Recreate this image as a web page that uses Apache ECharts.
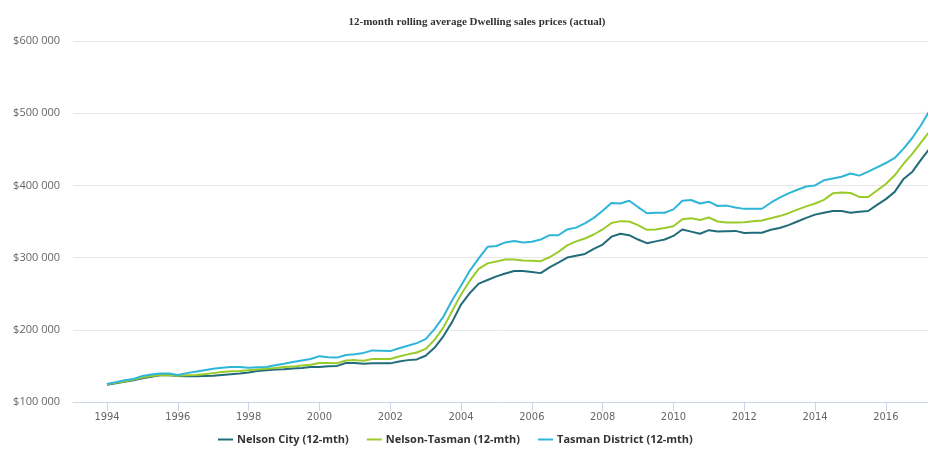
<!DOCTYPE html>
<html>
<head>
<meta charset="utf-8">
<title>12-month rolling average Dwelling sales prices (actual)</title>
<script src="https://cdn.jsdelivr.net/npm/echarts@6/dist/echarts.min.js"></script>
<style>
  html, body { margin: 0; padding: 0; background: #fff; }
  #chart { width: 928px; height: 454px; }
</style>
</head>
<body>
<div id="chart"></div>
<script>
// quarterly series, first point is 1994 Q1
var startYear = 1994
var yearTicks = [1994, 1996, 1998, 2000, 2002, 2004, 2006, 2008, 2010, 2012, 2014, 2016]
var seriesNames = ['Nelson City (12-mth)', 'Nelson-Tasman (12-mth)', 'Tasman District (12-mth)']

// values in $ thousands
var nelsonCity = [
  124, 126, 128, 130, 133, 135, 137, 137, 136, 135.5, 135.5, 136,
  136.5, 137.5, 138.5, 139.5, 141, 143, 144, 145, 145.5, 146.5, 147, 148.5,
  148.5, 149.5, 150, 154, 154, 153, 153.5, 153.5, 153.5, 156, 158, 159,
  164, 175, 191, 211, 235, 251, 264, 269, 274, 278, 281.5, 281.5,
  280, 278.5, 286.5, 293, 300, 302.5, 305, 312, 318, 329, 333, 331,
  325, 320, 322.5, 325, 330, 339, 336, 333, 338, 336, 336.5, 337,
  334, 334.5, 334.5, 338.5, 341, 345, 350, 355, 359.5, 362, 364.5, 364.5,
  362, 363.5, 364.5, 373, 381, 391, 409, 419, 436, 452
]
var nelsonTasman = [
  124.5, 126.5, 128.5, 131, 134, 136, 137, 137, 136.5, 137, 137.5, 138.5,
  140, 141.5, 142.5, 143, 144, 145, 146, 147, 148.5, 149, 150.5, 151.5,
  154, 154, 153.8, 157.5, 158, 157, 159.5, 159.5, 159.5, 163, 166, 168.5,
  173.5, 186, 203, 226, 249, 268, 284.5, 292, 294.5, 297.5, 297.5, 296,
  295.5, 295, 300.5, 308, 317, 322.5, 326.5, 332, 339, 348, 350.5, 350,
  345, 338.5, 339, 341, 343.5, 353, 354.5, 352, 355.5, 350, 348.5, 348.5,
  349, 350.5, 351.5, 354.5, 357.5, 361.5, 366.5, 371, 375, 380, 389, 390,
  389.5, 384, 384, 393, 402, 414, 430, 444, 460, 476
]
var tasmanDistrict = [
  125, 127.5, 130, 132, 136, 138, 139.5, 139.5, 137.5, 140, 142, 144,
  146, 147.5, 148.5, 148.5, 147.5, 148, 148.5, 151, 153, 155.5, 157.5, 159.5,
  163.5, 162, 161.5, 165, 166, 168, 171.5, 171, 170.5, 174.5, 178, 181.5,
  187, 201, 218, 241, 261, 282, 299, 315, 316, 321, 323, 321,
  322, 325, 331, 331, 339, 341.5, 347.5, 355, 365, 375.5, 375, 378.8,
  370, 361.5, 362, 362.2, 366.8, 378.8, 379.8, 375, 377.4, 371.5, 372, 369.5,
  367.5, 367.5, 367.7, 376, 383, 389, 394, 398.5, 400, 407, 409.5, 412,
  416.5, 413.5, 419, 425, 431, 438, 451, 466, 484, 505
]

var colors = ['#226c7a', '#9acb2b', '#2eb5d8']

function toPoints(values) {
  return values.map(function (v, i) {
    return [startYear + i / 4, v * 1000]
  })
}

function moneyLabel(v) {
  return '$' + (v / 1000) + ' 000'
}

var chart = echarts.init(document.getElementById('chart'), null, { renderer: 'canvas' })

chart.setOption({
  animation: false,
  color: colors,
  title: {
    text: '12-month rolling average Dwelling sales prices (actual)',
    left: 472,
    top: 12,
    textAlign: 'center',
    textStyle: {
      fontFamily: 'Liberation Serif, serif',
      fontSize: 11,
      fontWeight: 'bold',
      color: '#333'
    }
  },
  legend: {
    bottom: 4,
    left: 213,
    itemWidth: 15,
    itemHeight: 2,
    itemGap: 18,
    icon: 'rect',
    data: seriesNames,
    textStyle: {
      fontFamily: 'Open Sans, sans-serif',
      fontSize: 11,
      fontWeight: 'bold',
      color: '#333',
      padding: [0, 0, 0, -1]
    }
  },
  grid: {
    left: 73,
    right: 0,
    top: 41,
    bottom: 52,
    containLabel: false
  },
  xAxis: {
    type: 'value',
    min: 1993.04,
    max: 2017.19,
    axisLine: { show: true, lineStyle: { color: '#ccd6eb', width: 1 } },
    axisTick: {
      show: true,
      length: 9,
      customValues: yearTicks,
      lineStyle: { color: '#ccd6eb' }
    },
    axisLabel: {
      customValues: yearTicks,
      margin: 10,
      color: '#666',
      fontSize: 11,
      fontFamily: 'Liberation Sans Narrow, DejaVu Sans Condensed, sans-serif',
      formatter: function (v) { return String(Math.round(v)) }
    },
    splitLine: { show: false }
  },
  yAxis: {
    type: 'value',
    min: 100000,
    max: 600000,
    interval: 100000,
    axisLine: { show: false },
    axisTick: { show: false },
    axisLabel: {
      margin: 13,
      color: '#666',
      fontSize: 11,
      fontFamily: 'Open Sans, sans-serif',
      formatter: moneyLabel
    },
    splitLine: { lineStyle: { color: '#ebe6e8', width: 1 } }
  },
  series: [
    { name: seriesNames[0], type: 'line', data: toPoints(nelsonCity) },
    { name: seriesNames[1], type: 'line', data: toPoints(nelsonTasman) },
    { name: seriesNames[2], type: 'line', data: toPoints(tasmanDistrict) }
  ].map(function (s) {
    s.showSymbol = false
    s.symbol = 'none'
    s.lineStyle = { width: 2 }
    s.clip = true
    return s
  })
})
</script>
</body>
</html>
